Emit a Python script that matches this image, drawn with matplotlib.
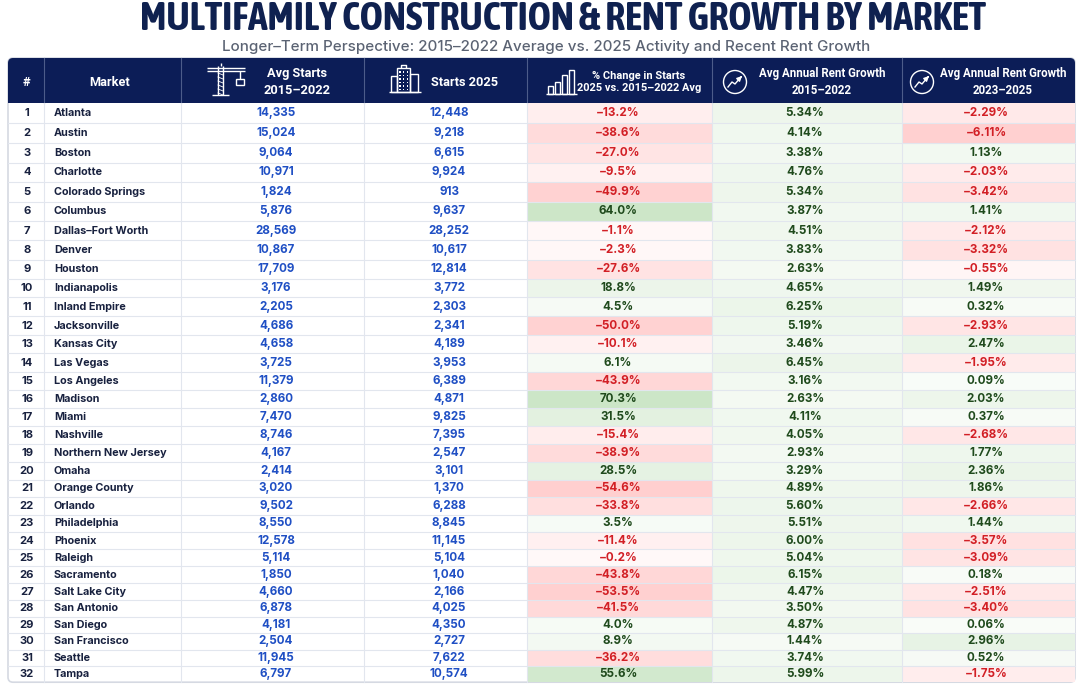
import numpy as np
import matplotlib
matplotlib.use('Agg')
from matplotlib import pyplot as plt
from matplotlib import font_manager
from matplotlib import patheffects
from matplotlib.patches import FancyBboxPatch, Rectangle, Circle

plt.rcParams['font.family'] = ['Inter', 'DejaVu Sans']

# ---------------- data ----------------
markets = ['Atlanta', 'Austin', 'Boston', 'Charlotte', 'Colorado Springs', 'Columbus',
           'Dallas\u2013Fort Worth', 'Denver', 'Houston', 'Indianapolis', 'Inland Empire',
           'Jacksonville', 'Kansas City', 'Las Vegas', 'Los Angeles', 'Madison', 'Miami',
           'Nashville', 'Northern New Jersey', 'Omaha', 'Orange County', 'Orlando',
           'Philadelphia', 'Phoenix', 'Raleigh', 'Sacramento', 'Salt Lake City',
           'San Antonio', 'San Diego', 'San Francisco', 'Seattle', 'Tampa']
avg_starts = [14335, 15024, 9064, 10971, 1824, 5876, 28569, 10867, 17709, 3176, 2205,
              4686, 4658, 3725, 11379, 2860, 7470, 8746, 4167, 2414, 3020, 9502, 8550,
              12578, 5114, 1850, 4660, 6878, 4181, 2504, 11945, 6797]
starts_2025 = [12448, 9218, 6615, 9924, 913, 9637, 28252, 10617, 12814, 3772, 2303,
               2341, 4189, 3953, 6389, 4871, 9825, 7395, 2547, 3101, 1370, 6288, 8845,
               11145, 5104, 1040, 2166, 4025, 4350, 2727, 7622, 10574]
pct_change = [-13.2, -38.6, -27.0, -9.5, -49.9, 64.0, -1.1, -2.3, -27.6, 18.8, 4.5,
              -50.0, -10.1, 6.1, -43.9, 70.3, 31.5, -15.4, -38.9, 28.5, -54.6, -33.8,
              3.5, -11.4, -0.2, -43.8, -53.5, -41.5, 4.0, 8.9, -36.2, 55.6]
rent_1522 = [5.34, 4.14, 3.38, 4.76, 5.34, 3.87, 4.51, 3.83, 2.63, 4.65, 6.25, 5.19,
             3.46, 6.45, 3.16, 2.63, 4.11, 4.05, 2.93, 3.29, 4.89, 5.60, 5.51, 6.00,
             5.04, 6.15, 4.47, 3.50, 4.87, 1.44, 3.74, 5.99]
rent_2325 = [-2.29, -6.11, 1.13, -2.03, -3.42, 1.41, -2.12, -3.32, -0.55, 1.49, 0.32,
             -2.93, 2.47, -1.95, 0.09, 2.03, 0.37, -2.68, 1.77, 2.36, 1.86, -2.66, 1.44,
             -3.57, -3.09, 0.18, -2.51, -3.40, 0.06, 2.96, 0.52, -1.75]

headers = ['#', 'Market', 'Avg Starts\n2015\u20132022', 'Starts 2025',
           '% Change in Starts\n2025 vs. 2015\u20132022 Avg',
           'Avg Annual Rent Growth\n2015\u20132022', 'Avg Annual Rent Growth\n2023\u20132025']

# ---------------- layout ----------------
W, H = 1081, 687
NAVY = '#0c1d57'
BLUE = '#1f4fc4'
RED = '#d21f25'
DKGREEN = '#1f4a1c'
INK = '#18213f'
col_edges = [8, 44, 181, 364, 527, 712, 902, 1075]
head_top, head_bot = 58, 103
n = len(markets)
# rows get a little shorter towards the bottom, as in the source picture
row_heights = np.linspace(20.0, 16.2, n)
row_tops = head_bot + np.concatenate([[0], np.cumsum(row_heights)[:-1]])
table_bot = row_tops[-1] + row_heights[-1]

fig = plt.figure(figsize=(W / 100, H / 100), dpi=100)
ax = fig.add_axes([0, 0, 1, 1])
ax.set_xlim(0, W)
ax.set_ylim(H, 0)
ax.axis('off')


def wt(f):
    w = f.weight
    if isinstance(w, str):
        w = font_manager.weight_dict.get(w, 400)
    return w


# title: prefer a bold condensed face
cond = [f for f in font_manager.fontManager.ttflist
        if 'Condensed' in f.name or 'Narrow' in f.name]
bold_cond = sorted({f.name for f in cond if wt(f) >= 600})
any_cond = sorted({f.name for f in cond})
if bold_cond:
    title_family, title_fx = [bold_cond[0], 'Roboto', 'DejaVu Sans'], []
elif any_cond:
    title_family = [any_cond[0], 'Roboto', 'DejaVu Sans']
    title_fx = [patheffects.withStroke(linewidth=1.6, foreground='#0f2150')]
else:
    title_family, title_fx = ['Roboto', 'DejaVu Sans'], []
title = fig.text(563 / W, 1 - 18.5 / H, 'MULTIFAMILY CONSTRUCTION & RENT GROWTH BY MARKET',
                 ha='center', va='center', fontsize=31, fontweight='bold', color='#0f2150',
                 family=title_family, path_effects=title_fx)
fig.canvas.draw()
tw = title.get_window_extent().width
if tw > 844 or tw < 800:
    title.set_fontsize(31 * 844 / tw)

fig.text(546 / W, 1 - 47 / H,
         'Longer\u2013Term Perspective: 2015\u20132022 Average vs. 2025 Activity and Recent Rent Growth',
         ha='center', va='center', fontsize=10.9, color='#5b6373', fontweight='medium')

# outer frame + header band
ax.add_patch(FancyBboxPatch((col_edges[0], head_top), col_edges[-1] - col_edges[0],
                            table_bot - head_top, boxstyle='round,pad=0,rounding_size=5',
                            fc='white', ec='#d5d9e2', lw=1.2, zorder=0))
ax.add_patch(FancyBboxPatch((col_edges[0], head_top), col_edges[-1] - col_edges[0],
                            head_bot - head_top, boxstyle='round,pad=0,rounding_size=5',
                            fc=NAVY, ec=NAVY, lw=0, zorder=1))
ax.add_patch(Rectangle((col_edges[0], head_bot - 6), col_edges[-1] - col_edges[0], 6,
                       fc=NAVY, ec='none', zorder=1))
for x in col_edges[1:-1]:
    ax.plot([x, x], [head_top, head_bot], color='#4d5c8a', lw=0.8, zorder=2)


def shade(v, vmax, neg_max=(1.0, 0.78, 0.78), pos_max=(0.80, 0.90, 0.78)):
    t = 0.12 + 0.88 * min(abs(v) / vmax, 1.0)
    top = neg_max if v < 0 else pos_max
    base = (1.0, 1.0, 1.0)
    return tuple(b + (c - b) * t for b, c in zip(base, top))


def fmt_pct(v, nd):
    return f'{v:.{nd}f}%'.replace('-', '\u2212')


fs_body = 7.8
fs_num = 8.4
for i in range(n):
    y0, rh = row_tops[i], row_heights[i]
    yc = y0 + rh / 2
    ax.add_patch(Rectangle((col_edges[4], y0), col_edges[5] - col_edges[4], rh,
                           fc=shade(pct_change[i], 65), ec='none', zorder=1))
    ax.add_patch(Rectangle((col_edges[5], y0), col_edges[6] - col_edges[5], rh,
                           fc=shade(rent_1522[i], 22), ec='none', zorder=1))
    ax.add_patch(Rectangle((col_edges[6], y0), col_edges[7] - col_edges[6], rh,
                           fc=shade(rent_2325[i], 7.5), ec='none', zorder=1))
    if i > 0:
        ax.plot([col_edges[0], col_edges[-1]], [y0, y0], color='#e2e6ee', lw=0.8, zorder=2)

    ax.text(27, yc, str(i + 1), ha='center', va='center', fontsize=8.1,
            fontweight='bold', color=INK, zorder=3)
    ax.text(54, yc, markets[i], ha='left', va='center', fontsize=fs_body,
            fontweight='bold', color=INK, zorder=3)
    ax.text(276, yc, f'{avg_starts[i]:,}', ha='center', va='center', fontsize=fs_num,
            fontweight='bold', color=BLUE, zorder=3)
    ax.text(449, yc, f'{starts_2025[i]:,}', ha='center', va='center', fontsize=fs_num,
            fontweight='bold', color=BLUE, zorder=3)
    v = pct_change[i]
    ax.text(618, yc, fmt_pct(v, 1), ha='center', va='center', fontsize=fs_num,
            fontweight='bold', color=RED if v < 0 else DKGREEN, zorder=3)
    ax.text(805, yc, fmt_pct(rent_1522[i], 2), ha='center', va='center', fontsize=fs_num,
            fontweight='bold', color=DKGREEN, zorder=3)
    v = rent_2325[i]
    ax.text(986, yc, fmt_pct(v, 2), ha='center', va='center', fontsize=fs_num,
            fontweight='bold', color=RED if v < 0 else DKGREEN, zorder=3)

for x in col_edges[1:-1]:
    ax.plot([x, x], [head_bot, table_bot], color='#e2e6ee', lw=0.8, zorder=2)

# header text
hy = 82
head_x = [26, 110, 297, 465, 639, 822, 1003]
head_fs = [9.2, 9.2, 9.2, 9.2, 7.9, 8.3, 8.3]
for hx, h, fs in zip(head_x, headers, head_fs):
    ax.text(hx, hy, h, ha='center', va='center', fontsize=fs, fontweight='bold',
            color='white', linespacing=1.3, zorder=3, family=['Roboto', 'DejaVu Sans'])

# header icons (simple line drawings)
ic = dict(color='white', lw=1.0, zorder=3, solid_capstyle='butt')
# crane
ax.plot([218, 218], [66, 95], **ic)
ax.plot([223, 223], [66, 95], **ic)
ax.plot([207, 245], [68, 68], **ic)
ax.plot([207, 245], [71, 71], **ic)
ax.plot([220.5, 220.5], [63, 66], **ic)
ax.plot([212, 229], [95, 95], **ic)
ax.plot([240, 240], [71, 79], **ic)
ax.add_patch(Rectangle((236, 79), 8, 6, fc='none', ec='white', lw=1.0, zorder=3))
for yy in range(73, 94, 4):
    ax.plot([218, 223], [yy, yy + 2], color='white', lw=0.6, zorder=3)
# building
ax.add_patch(Rectangle((397, 68), 13, 24, fc='none', ec='white', lw=1.0, zorder=3))
ax.add_patch(Rectangle((391, 76), 6, 16, fc='none', ec='white', lw=1.0, zorder=3))
ax.add_patch(Rectangle((410, 74), 8, 18, fc='none', ec='white', lw=1.0, zorder=3))
ax.plot([401, 401, 406, 406], [68, 65, 65, 68], **ic)
ax.plot([389, 421], [92, 92], **ic)
for yy in np.arange(71, 90, 3.5):
    for xx in (399, 402.8, 406.6):
        ax.add_patch(Rectangle((xx, yy), 1.6, 1.8, fc='white', ec='none', zorder=3))
# bar chart
for bx, bh in zip([548, 555, 562, 569], [8, 12, 19, 24]):
    ax.add_patch(Rectangle((bx, 94 - bh), 5, bh, fc='none', ec='white', lw=1.0, zorder=3))
ax.plot([546, 577], [94, 94], **ic)
# trend circles
for cx in (735, 922):
    cy = 82
    ax.add_patch(Circle((cx, cy), 11.5, fc='none', ec='white', lw=1.0, zorder=3))
    ax.plot([cx - 7, cx - 3, cx, cx + 5], [cy + 5, cy, cy + 2, cy - 4],
            color='white', lw=1.0, zorder=3)
    ax.annotate('', xy=(cx + 7, cy - 6), xytext=(cx + 4, cy - 3),
                arrowprops=dict(arrowstyle='-|>', color='white', lw=1.0,
                                mutation_scale=7), zorder=3)

fig.savefig('out.png', dpi=100, facecolor='white')
